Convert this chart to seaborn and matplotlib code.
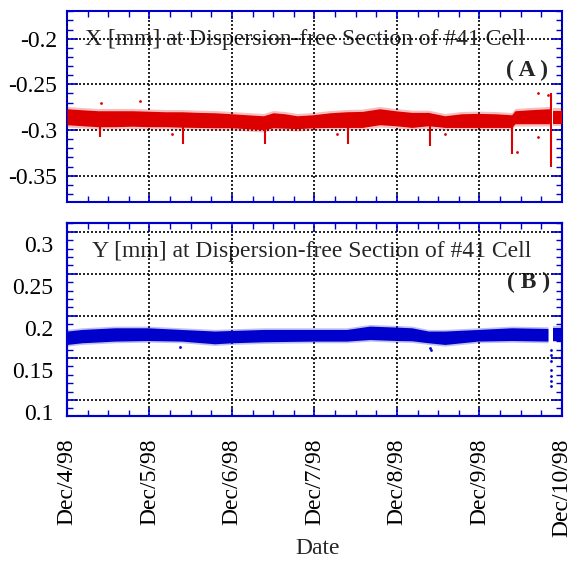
"""
Beam position at the dispersion-free section of cell #41, Dec/4/98 - Dec/10/98.
"""
import pandas as pd
import seaborn as sns
import matplotlib
matplotlib.use("Agg")
import matplotlib.pyplot as plt
import matplotlib.dates as mdates
from matplotlib.ticker import MultipleLocator

START = pd.Timestamp("1998-12-04")

# X [mm]: days after Dec/4/98 and lower / upper edge of the dense band
x_days = [0.00, 0.18, 0.38, 0.58, 0.79, 0.98, 1.19, 1.39, 1.59, 1.79, 2.00,
          2.18, 2.38, 2.50, 2.64, 2.79, 2.98, 3.19, 3.39, 3.58, 3.79, 3.98,
          4.18, 4.38, 4.58, 4.78, 4.98, 5.19, 5.39, 5.43, 5.61, 5.85]
x_hi = [-0.2767, -0.2778, -0.2789, -0.2789, -0.2789, -0.2794, -0.2800, -0.2800,
        -0.2807, -0.2811, -0.2822, -0.2833, -0.2844, -0.2811, -0.2822, -0.2844,
        -0.2833, -0.2811, -0.2800, -0.2796, -0.2767, -0.2789, -0.2807, -0.2807,
        -0.2844, -0.2822, -0.2818, -0.2822, -0.2833, -0.2789, -0.2778, -0.2767]
x_lo = [-0.2942, -0.2953, -0.2964, -0.2964, -0.2958, -0.2964, -0.2964, -0.2969,
        -0.2972, -0.2975, -0.2975, -0.2986, -0.2997, -0.2975, -0.2980, -0.2986,
        -0.2975, -0.2972, -0.2972, -0.2972, -0.2942, -0.2953, -0.2972, -0.2953,
        -0.2972, -0.2972, -0.2972, -0.2972, -0.2972, -0.2931, -0.2931, -0.2931]
x_tail_days = [5.89, 6.00]
x_tail_hi = [-0.2789, -0.2789]
x_tail_lo = [-0.2931, -0.2931]
x_spike_days = [0.40, 1.41, 2.40, 3.41, 4.40, 5.39, 5.87]
x_spike_low = [-0.308, -0.315, -0.315, -0.315, -0.317, -0.326, -0.341]
x_spike_high = [-0.295, -0.295, -0.297, -0.296, -0.295, -0.296, -0.259]
x_out_days = [0.41, 0.885, 1.27, 3.27, 4.58, 5.45, 5.71, 5.71, 5.83]
x_out_vals = [-0.270, -0.268, -0.304, -0.304, -0.304, -0.3245, -0.260, -0.308, -0.262]

# Y [mm]
y_days = [0.00, 0.18, 0.58, 0.98, 1.39, 1.79, 2.00, 2.38, 2.98, 3.39, 3.67,
          4.00, 4.18, 4.38, 4.58, 4.98, 5.39, 5.83]
y_hi = [0.1961, 0.1980, 0.2000, 0.2000, 0.1980, 0.1961, 0.1968, 0.1980, 0.1980,
        0.1980, 0.2020, 0.2008, 0.2000, 0.1961, 0.1961, 0.1980, 0.2000, 0.1992]
y_lo = [0.1801, 0.1821, 0.1841, 0.1848, 0.1841, 0.1809, 0.1821, 0.1833, 0.1841,
        0.1841, 0.1860, 0.1848, 0.1845, 0.1821, 0.1801, 0.1841, 0.1848, 0.1841]
y_tail_days = [5.89, 6.00]
y_tail_hi = [0.2000, 0.2000]
y_tail_lo = [0.1848, 0.1848]
y_out_days = [1.37, 4.40, 4.41, 5.87, 5.87, 5.87, 5.87, 5.87, 5.87, 5.87]
y_out_vals = [0.177, 0.176, 0.173, 0.174, 0.168, 0.1606, 0.150, 0.1427, 0.1368, 0.1308]

date_labels = ["Dec/4/98", "Dec/5/98", "Dec/6/98", "Dec/7/98",
               "Dec/8/98", "Dec/9/98", "Dec/10/98"]

RED = "#dd0000"
BLUE = "#0000cc"
FRAME = "#0000cc"
FS = 17


def to_time(days):
    return START + pd.to_timedelta(days, unit="D")


def style_x(ax, labels):
    ax.set_xlim(to_time(0), to_time(6))
    ax.set_xticks(to_time(list(range(7))))
    ax.xaxis.set_minor_locator(mdates.HourLocator(byhour=[6, 12, 18]))
    if labels:
        ax.set_xticklabels(date_labels, rotation=90)
    else:
        ax.set_xticklabels([])
    ax.tick_params(axis="x", which="both", direction="in", top=True, bottom=True,
                   colors=FRAME, labelcolor="black", pad=16, labelsize=FS)
    ax.tick_params(axis="x", which="major", length=6, width=1.2)
    ax.tick_params(axis="x", which="minor", length=4, width=1.0)
    ax.grid(True, axis="x", color="black", linestyle=(0, (1.2, 1.2)), linewidth=1.2)
    ax.set_xlabel("")
    ax.set_ylabel("")


def style_y_marks(ax, lo, hi, major_vals, labels):
    ax.set_ylim(lo, hi)
    ax.set_yticks(major_vals)
    ax.yaxis.set_minor_locator(MultipleLocator(0.01))
    ax.tick_params(axis="y", which="both", direction="in", left=True, right=True,
                   colors=FRAME, labelcolor="black", pad=7, labelsize=FS,
                   labelleft=labels, labelright=False)
    ax.tick_params(axis="y", which="major", length=8, width=1.2)
    ax.tick_params(axis="y", which="minor", length=4, width=1.0)
    ax.grid(True, axis="y", color="black", linestyle=(0, (1.2, 1.2)), linewidth=1.2)


def frame(ax):
    for sp in ax.spines.values():
        sp.set_visible(True)
        sp.set_color(FRAME)
        sp.set_linewidth(1.5)


def band(ax, days, lo, hi, color, halo):
    t = to_time(days)
    lo = pd.Series(lo)
    hi = pd.Series(hi)
    ax.fill_between(t, lo - halo, hi + halo, color=color, alpha=0.25, lw=0, zorder=3)
    ax.fill_between(t, lo, hi, color=color, lw=0, zorder=3)


def main():
    sns.set_theme(style="white")
    plt.rcParams["font.family"] = ["Liberation Serif", "DejaVu Serif"]
    plt.rcParams["font.size"] = FS

    fig = plt.figure(figsize=(5.73, 5.62), dpi=100)
    ax1 = fig.add_axes([0.1169, 0.6406, 0.8639, 0.3398])
    ax2 = fig.add_axes([0.1169, 0.2598, 0.8639, 0.3434])

    # (A) X position
    band(ax1, x_days, x_lo, x_hi, RED, 0.0025)
    band(ax1, x_tail_days, x_tail_lo, x_tail_hi, RED, 0.0025)
    ax1.vlines(to_time(x_spike_days), x_spike_low, x_spike_high, color=RED, lw=1.5, zorder=3)
    sns.scatterplot(x=to_time(x_out_days), y=x_out_vals, ax=ax1, color=RED,
                    s=4, linewidth=0, zorder=3)
    ax1.set_axisbelow(False)
    style_x(ax1, labels=False)
    style_y_marks(ax1, -0.3788, -0.1697, [-0.35, -0.3, -0.25, -0.2], labels=True)
    ax1.set_yticklabels(["-0.35", "-0.3", "-0.25", "-0.2"])
    frame(ax1)
    ax1.text(0.036, 0.853, "X [mm] at Dispersion-free Section of #41 Cell",
             transform=ax1.transAxes, ha="left", va="center", fontsize=FS, zorder=2)
    ax1.text(0.972, 0.691, "( A )", transform=ax1.transAxes, ha="right",
             va="center", fontsize=FS, fontweight="bold", zorder=2)

    # (B) Y position; tick labels sit a little below the grid lines in the original
    band(ax2, y_days, y_lo, y_hi, BLUE, 0.002)
    band(ax2, y_tail_days, y_tail_lo, y_tail_hi, BLUE, 0.002)
    sns.scatterplot(x=to_time(y_out_days), y=y_out_vals, ax=ax2, color=BLUE,
                    s=4, linewidth=0, zorder=3)
    ax2.set_axisbelow(False)
    style_x(ax2, labels=True)
    ax2.set_ylim(0.0947, 0.3251)
    ax2.set_yticks([0.1, 0.15, 0.2, 0.25, 0.3])
    ax2.set_yticklabels(["0.1", "0.15", "0.2", "0.25", "0.3"])
    ax2.tick_params(axis="y", which="both", length=0, pad=10, labelsize=FS,
                    labelcolor="black")
    frame(ax2)
    ax2.text(0.0505, 0.85, "Y [mm] at Dispersion-free Section of #41 Cell",
             transform=ax2.transAxes, ha="left", va="center", fontsize=FS, zorder=2)
    ax2.text(0.976, 0.694, "( B )", transform=ax2.transAxes, ha="right",
             va="center", fontsize=FS, fontweight="bold", zorder=2)

    axg = ax2.twinx()
    style_y_marks(axg, 0.081, 0.3103, [0.1, 0.15, 0.2, 0.25, 0.3], labels=False)
    frame(axg)

    fig.text(318 / 573, 1 - 549 / 562, "Date", ha="center", va="center", fontsize=FS)
    fig.savefig("out.png", dpi=100)


if __name__ == "__main__":
    main()
